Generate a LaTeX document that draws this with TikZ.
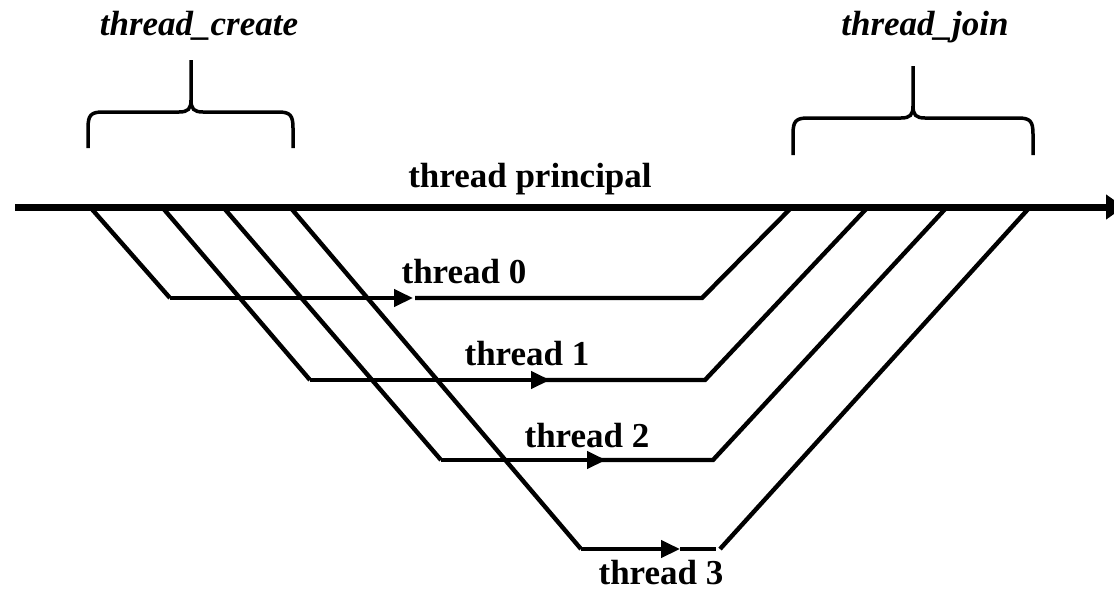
\documentclass[tikz,border=0pt]{standalone}
\usepackage{fontspec}
\setmainfont{Liberation Serif}
\usetikzlibrary{arrows.meta}
\begin{document}
\begin{tikzpicture}[x=1pt,y=-1pt,
  mainline/.style={line width=7pt},
  thr/.style={line width=4.4pt, line join=miter},
  tip/.style={-{Triangle[length=19pt,width=17pt]}},
  lbl/.style={font=\fontsize{35}{40}\selectfont\bfseries, anchor=base, inner sep=0pt},
  ilbl/.style={font=\fontsize{35}{40}\selectfont\bfseries\itshape, anchor=base, inner sep=0pt},
  bracepath/.style={line width=3.5pt, line cap=butt}]
\useasboundingbox (0,0) rectangle (1114,592);

% main thread
\coordinate (m0) at (15,207);
\coordinate (m1) at (1124,207);
\draw[mainline, -{Triangle[length=18pt,width=24pt]}] (m0) -- (m1);
\node[lbl] (tp) at (530,187) {thread principal};

% fork points on the main thread
\coordinate (c0) at (90,207);
\coordinate (c1) at (162,207);
\coordinate (c2) at (223,207);
\coordinate (c3) at (290,207);
% join points on the main thread
\coordinate (j0) at (792,207);
\coordinate (j1) at (868,207);
\coordinate (j2) at (947,207);
\coordinate (j3) at (1030,207);

% thread levels: start, arrow tip, end
\coordinate (s0) at (170,298); \coordinate (a0) at (413,298); \coordinate (e0) at (702,298);
\coordinate (s1) at (310,380); \coordinate (a1) at (550,380); \coordinate (e1) at (705,380);
\coordinate (s2) at (441,460); \coordinate (a2) at (606,460); \coordinate (e2) at (713,460);
\coordinate (s3) at (581,549); \coordinate (a3) at (680,549); \coordinate (e3) at (716,549);
\coordinate (k3) at (720,549);

% thread 0
\draw[thr] (c0) -- (s0);
\draw[thr, tip] (s0) -- (a0);
\draw[thr] ([xshift=2pt]a0) -- (e0) -- (j0);
% thread 1
\draw[thr] (c1) -- (s1);
\draw[thr, tip] (s1) -- (a1);
\draw[thr] ([xshift=-12pt]a1) -- (e1) -- (j1);
% thread 2
\draw[thr] (c2) -- (s2);
\draw[thr, tip] (s2) -- (a2);
\draw[thr] ([xshift=-12pt]a2) -- (e2) -- (j2);
% thread 3
\draw[thr] (c3) -- (s3);
\draw[thr, tip] (s3) -- (a3);
\draw[thr] (a3) -- (e3);
\draw[thr] (k3) -- (j3);

% thread labels
\node[lbl] (t0) at (464,283) {thread 0};
\node[lbl] (t1) at (527,365) {thread 1};
\node[lbl] (t2) at (587,447) {thread 2};
\node[lbl] (t3) at (661,584) {thread 3};

% thread_create brace
\draw[bracepath] (88,148) -- (88,128) .. controls (88,115) and (91,112) .. (103,112)
  -- (179,112) .. controls (188,112) and (191,109) .. (191,100) -- (191,60);
\draw[bracepath] (293,148) -- (293,128) .. controls (293,115) and (290,112) .. (278,112)
  -- (203,112) .. controls (194,112) and (191,109) .. (191,100);
\node[ilbl] (tc) at (199,35) {thread\_create};

% thread_join brace
\draw[bracepath] (793,155) -- (793,134) .. controls (793,121) and (796,118) .. (808,118)
  -- (901,118) .. controls (910,118) and (913,115) .. (913,106) -- (913,66);
\draw[bracepath] (1033,155) -- (1033,134) .. controls (1033,121) and (1030,118) .. (1018,118)
  -- (925,118) .. controls (916,118) and (913,115) .. (913,106);
\node[ilbl] (tj) at (925,35) {thread\_join};
\end{tikzpicture}
\end{document}
